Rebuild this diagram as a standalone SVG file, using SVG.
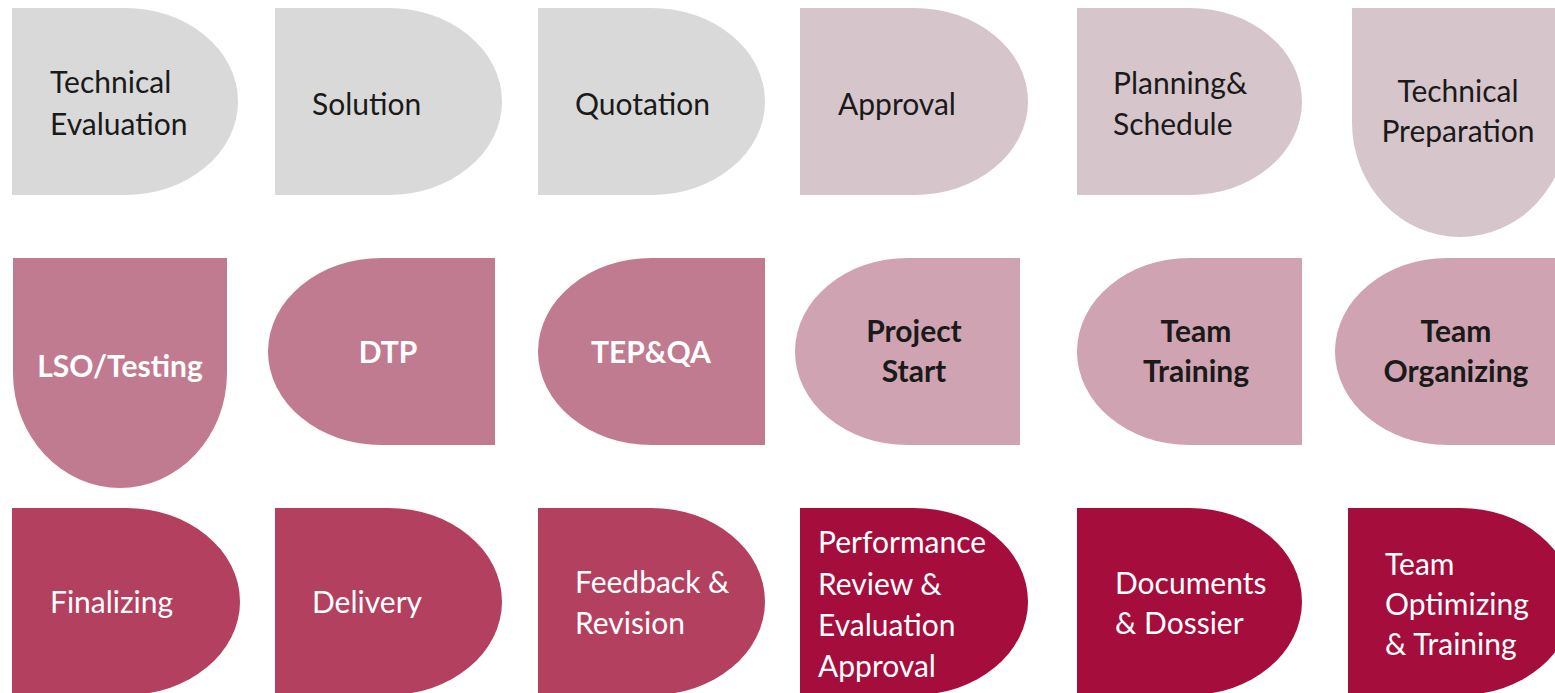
<svg xmlns="http://www.w3.org/2000/svg" width="1555" height="693" viewBox="0 0 1555 693">
<style>
text{font-family:Lato,"Liberation Sans",sans-serif;font-size:30px}
.dk{fill:#1a1a1a}
.wt{fill:#ffffff}
.b{font-weight:bold}
.c{text-anchor:middle}
.g1{fill:#d9d9d9}
.g2{fill:#d6c5ca}
.p1{fill:#c17b91}
.p2{fill:#cfa3b1}
.r1{fill:#b3405f}
.r2{fill:#a50d3c}
</style>
<rect width="1555" height="693" fill="#ffffff"/>
<g id="connectors"></g>
<g id="n-tech-eval"><path class="g1" d="M12 8 H125 A113 93.5 0 0 1 125 195 H12 Z"/><text class="dk" x="50" y="93">Technical</text><text class="dk" x="50" y="135">Evaluation</text></g>
<g id="n-solution"><path class="g1" d="M275 8 H388.5 A113.5 93.5 0 0 1 388.5 195 H275 Z"/><text class="dk" x="312" y="115">Solution</text></g>
<g id="n-quotation"><path class="g1" d="M538 8 H651.5 A113.5 93.5 0 0 1 651.5 195 H538 Z"/><text class="dk" x="575" y="115">Quotation</text></g>
<g id="n-approval"><path class="g2" d="M800 8 H914 A114 93.5 0 0 1 914 195 H800 Z"/><text class="dk" x="838" y="115">Approval</text></g>
<g id="n-planning"><path class="g2" d="M1077 8 H1189.5 A112.5 93.5 0 0 1 1189.5 195 H1077 Z"/><text class="dk" x="1113" y="94">Planning&amp;</text><text class="dk" x="1113" y="135">Schedule</text></g>
<g id="n-tech-prep"><path class="g2" d="M1352 8 H1568 V122.5 A108 114.5 0 0 1 1352 122.5 Z"/><text class="dk c" x="1458" y="102">Technical</text><text class="dk c" x="1458" y="142">Preparation</text></g>
<g id="n-lso"><path class="p1" d="M13 258 H227 V373 A107 115 0 0 1 13 373 Z"/><text class="wt b c" x="120" y="377">LSO/Testing</text></g>
<g id="n-dtp"><path class="p1" d="M495 258 H381.5 A113.5 93.5 0 0 0 381.5 445 H495 Z"/><text class="wt b c" x="388" y="363">DTP</text></g>
<g id="n-tepqa"><path class="p1" d="M765 258 H651.5 A113.5 93.5 0 0 0 651.5 445 H765 Z"/><text class="wt b c" x="651" y="363">TEP&amp;QA</text></g>
<g id="n-project-start"><path class="p2" d="M1020 258 H907.5 A112.5 93.5 0 0 0 907.5 445 H1020 Z"/><text class="dk b c" x="914" y="342">Project</text><text class="dk b c" x="914" y="382">Start</text></g>
<g id="n-team-training"><path class="p2" d="M1302 258 H1189.5 A112.5 93.5 0 0 0 1189.5 445 H1302 Z"/><text class="dk b c" x="1196" y="342">Team</text><text class="dk b c" x="1196" y="382">Training</text></g>
<g id="n-team-org"><path class="p2" d="M1560 258 H1447.5 A112.5 93.5 0 0 0 1447.5 445 H1560 Z"/><text class="dk b c" x="1456" y="342">Team</text><text class="dk b c" x="1456" y="382">Organizing</text></g>
<g id="n-finalizing"><path class="r1" d="M12 508 H126 A114 93.5 0 0 1 126 695 H12 Z"/><text class="wt" x="50" y="613">Finalizing</text></g>
<g id="n-delivery"><path class="r1" d="M275 508 H388.5 A113.5 93.5 0 0 1 388.5 695 H275 Z"/><text class="wt" x="312" y="613">Delivery</text></g>
<g id="n-feedback"><path class="r1" d="M538 508 H651.5 A113.5 93.5 0 0 1 651.5 695 H538 Z"/><text class="wt" x="575" y="593">Feedback &amp;</text><text class="wt" x="575" y="634">Revision</text></g>
<g id="n-performance"><path class="r2" d="M800 508 H914 A114 93.5 0 0 1 914 695 H800 Z"/><text class="wt" x="818" y="553">Performance</text><text class="wt" x="818" y="595">Review &amp;</text><text class="wt" x="818" y="636">Evaluation</text><text class="wt" x="818" y="677">Approval</text></g>
<g id="n-documents"><path class="r2" d="M1077 508 H1189.5 A112.5 93.5 0 0 1 1189.5 695 H1077 Z"/><text class="wt" x="1115" y="594">Documents</text><text class="wt" x="1115" y="634">&amp; Dossier</text></g>
<g id="n-team-opt"><path class="r2" d="M1348 508 H1460.5 A112.5 93.5 0 0 1 1460.5 695 H1348 Z"/><text class="wt" x="1385" y="575">Team</text><text class="wt" x="1385" y="615">Optimizing</text><text class="wt" x="1385" y="655">&amp; Training</text></g>
</svg>
